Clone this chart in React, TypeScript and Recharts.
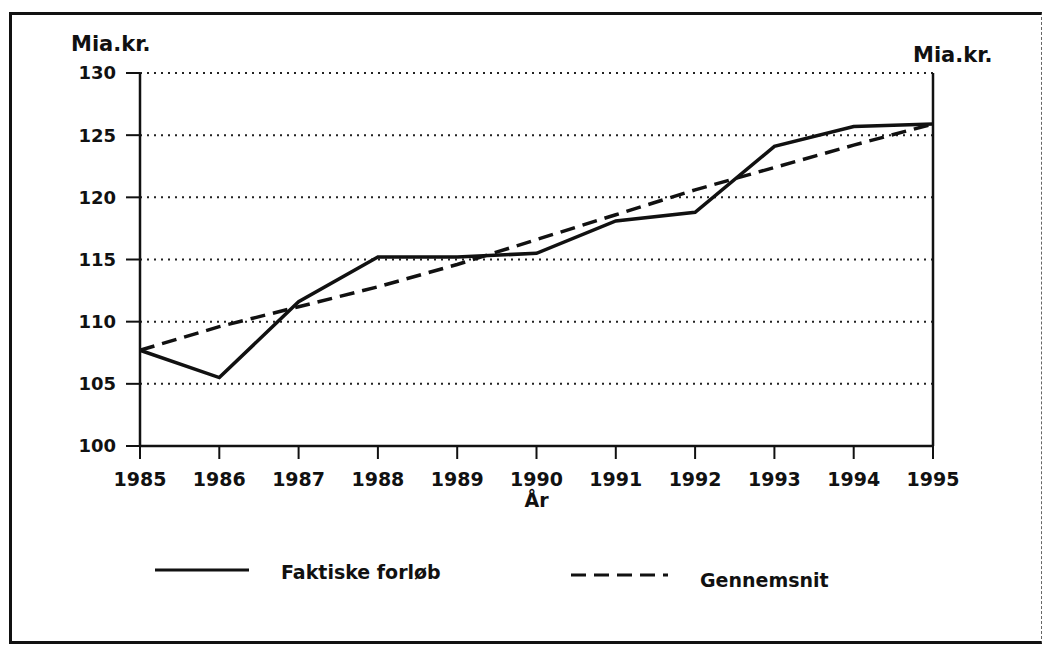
import React from "react";
import { LineChart, Line, XAxis, YAxis, CartesianGrid } from "recharts";

const years = [1985, 1986, 1987, 1988, 1989, 1990, 1991, 1992, 1993, 1994, 1995];
const faktiske = [107.7, 105.5, 111.6, 115.2, 115.2, 115.5, 118.1, 118.8, 124.1, 125.7, 125.9];
const gennemsnit = [107.7, 109.6, 111.2, 112.8, 114.6, 116.6, 118.6, 120.6, 122.4, 124.2, 125.9];
const yTicks = [100, 105, 110, 115, 120, 125, 130];
const seriesNames = ["Faktiske forløb", "Gennemsnit"];
const unitLabel = "Mia.kr.";
const xLabel = "År";

const data = years.map((y, i) => ({ year: y, faktiske: faktiske[i], gennemsnit: gennemsnit[i] }));

const FONT = "'DejaVu Sans', 'Liberation Sans', Arial, sans-serif";
const yTickStyle = { fontSize: 18, fontWeight: 700, fill: "#111", fontFamily: FONT };
const xTickStyle = { fontSize: 19, fontWeight: 700, fill: "#111", fontFamily: FONT };

export default function App() {
  return (
    <div style={{ position: "relative", width: 1047, height: 638, fontFamily: FONT, background: "#fff" }}>
      <div
        style={{
          position: "absolute",
          left: 1,
          top: 4,
          width: 1029,
          height: 626,
          borderLeft: "3px solid #111",
          borderTop: "3px solid #111",
          borderBottom: "3px solid #111",
          borderRight: "1px dashed #666",
        }}
      />
      <div style={{ position: "absolute", left: 63, top: 24, fontSize: 21, fontWeight: 700, color: "#111", lineHeight: "24px" }}>
        {unitLabel}
      </div>
      <div style={{ position: "absolute", left: 905, top: 35, fontSize: 21, fontWeight: 700, color: "#111", lineHeight: "24px" }}>
        {unitLabel}
      </div>
      <div style={{ position: "absolute", left: 0, top: 0 }}>
        <LineChart width={1047} height={638} data={data} margin={{ top: 65, right: 0, bottom: 130, left: 0 }}>
          <CartesianGrid yAxisId="left" horizontal vertical={false} stroke="#222" strokeWidth={2} strokeDasharray="2 5" />
          <XAxis
            dataKey="year"
            type="number"
            domain={[1985, 1995]}
            ticks={years}
            tick={xTickStyle}
            tickSize={13}
            tickMargin={14}
            height={70}
            stroke="#111"
            strokeWidth={2.5}
            tickLine={{ stroke: "#111", strokeWidth: 2 }}
            interval={0}
            label={{ value: xLabel, position: "insideBottom", offset: 9, style: { ...xTickStyle } }}
          />
          <YAxis
            yAxisId="left"
            domain={[100, 130]}
            ticks={yTicks}
            width={132}
            tick={yTickStyle}
            tickSize={14}
            tickMargin={10}
            stroke="#111"
            strokeWidth={2.5}
            tickLine={{ stroke: "#111", strokeWidth: 2 }}
            interval={0}
          />
          <YAxis
            yAxisId="right"
            orientation="right"
            domain={[100, 130]}
            ticks={yTicks}
            width={122}
            tick={yTickStyle}
            tickSize={16}
            tickMargin={8}
            stroke="#111"
            strokeWidth={2.5}
            tickLine={{ stroke: "#111", strokeWidth: 2 }}
            interval={0}
          />
          <Line
            yAxisId="left"
            type="linear"
            dataKey="gennemsnit"
            stroke="#111"
            strokeWidth={3.5}
            strokeDasharray="15 8"
            dot={false}
            isAnimationActive={false}
          />
          <Line
            yAxisId="left"
            type="linear"
            dataKey="faktiske"
            stroke="#111"
            strokeWidth={3.5}
            dot={false}
            isAnimationActive={false}
          />
        </LineChart>
      </div>
      <svg width={1000} height={60} style={{ position: "absolute", left: 0, top: 540 }}>
        <line x1={147} y1={22} x2={241} y2={22} stroke="#111" strokeWidth={3} />
        <text x={273} y={31} style={{ fontSize: 19, fontWeight: 700, fontFamily: FONT }} fill="#111">
          {seriesNames[0]}
        </text>
        <line x1={563} y1={27} x2={660} y2={27} stroke="#111" strokeWidth={3} strokeDasharray="15 8" />
        <text x={692} y={39} style={{ fontSize: 19, fontWeight: 700, fontFamily: FONT }} fill="#111">
          {seriesNames[1]}
        </text>
      </svg>
    </div>
  );
}
